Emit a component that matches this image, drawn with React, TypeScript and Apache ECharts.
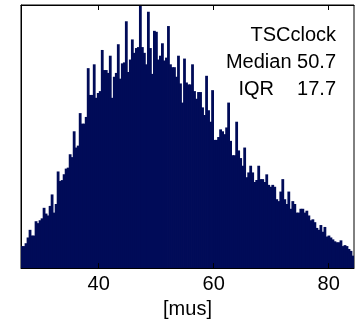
import React, { useEffect, useRef } from "react";
import * as echarts from "echarts";

// Histogram bin layout (x in microseconds)
const BIN_START = 26.5;
const BIN_END = 84.4;
const BIN_COUNT = 166;
const BIN_WIDTH = (BIN_END - BIN_START) / BIN_COUNT;

// Counts per bin (arbitrary units)
const counts: number[] = [
  23, 23, 26, 32, 40, 34, 34, 49, 47, 50,
  52, 63, 57, 55, 65, 77, 58, 67, 101, 91,
  92, 98, 104, 105, 119, 116, 143, 126, 128, 162,
  151, 151, 158, 209, 181, 181, 213, 178, 183, 185,
  228, 207, 207, 204, 222, 178, 200, 204, 234, 198,
  214, 215, 258, 205, 218, 239, 225, 230, 231, 275,
  231, 225, 213, 268, 230, 203, 248, 247, 218, 222,
  235, 217, 220, 253, 213, 210, 210, 200, 222, 193,
  173, 219, 194, 192, 192, 213, 185, 177, 184, 184,
  168, 160, 201, 165, 153, 186, 134, 134, 137, 145,
  143, 140, 147, 173, 133, 118, 118, 153, 123, 115,
  107, 126, 95, 100, 107, 100, 90, 92, 107, 93,
  93, 90, 98, 87, 85, 87, 85, 72, 70, 80,
  93, 72, 67, 80, 62, 70, 67, 58, 58, 62,
  62, 58, 60, 55, 50, 51, 48, 42, 40, 45,
  38, 43, 33, 34, 32, 30, 28, 27, 27, 29,
  23, 24, 23, 20, 18, 13,
];

const binCenters: string[] = counts.map((_, i) =>
  (BIN_START + (i + 0.5) * BIN_WIDTH).toFixed(2)
);

const xTicks = [40, 60, 80];
const xName = "[mus]";
const annotTitle = "TSCclock";
const annotMedian = "Median 50.7";
const annotIqrLabel = "IQR";
const annotIqrValue = "17.7";

const FONT = "'Liberation Sans', Arial, Helvetica, sans-serif";
const BAR_COLOR = "#000b58";

export default function App() {
  const ref = useRef<HTMLDivElement>(null);
  useEffect(() => {
    if (!ref.current) return;
    const chart = echarts.init(ref.current, null, { renderer: "svg" });
    chart.setOption({
      animation: false,
      grid: {
        left: 21,
        top: 5,
        right: 4,
        bottom: 43,
        show: true,
        borderColor: "#000",
        borderWidth: 1,
        backgroundColor: "transparent",
      },
      xAxis: [
        {
          type: "category",
          data: binCenters,
          show: false,
          boundaryGap: true,
        },
        {
          type: "value",
          position: "bottom",
          min: BIN_START,
          max: BIN_END,
          z: 10,
          axisLine: { show: true, lineStyle: { color: "#000", width: 1 } },
          axisTick: {
            show: true,
            inside: true,
            length: 5,
            customValues: xTicks,
            lineStyle: { color: "#000" },
          },
          axisLabel: {
            show: true,
            customValues: xTicks,
            color: "#000",
            fontSize: 20,
            fontFamily: FONT,
            margin: 5,
          },
          splitLine: { show: false },
          name: xName,
          nameLocation: "middle",
          nameGap: 19,
          nameTextStyle: { color: "#000", fontSize: 20, fontFamily: FONT },
        },
        {
          type: "value",
          position: "top",
          min: BIN_START,
          max: BIN_END,
          z: 10,
          axisLine: { show: true, lineStyle: { color: "#000", width: 1 } },
          axisTick: {
            show: true,
            inside: true,
            length: 5,
            customValues: xTicks,
            lineStyle: { color: "#000" },
          },
          axisLabel: { show: false },
          splitLine: { show: false },
        },
      ],
      yAxis: {
        type: "value",
        min: 0,
        max: 275,
        axisLine: { show: true, lineStyle: { color: "#000" } },
        axisTick: { show: false },
        axisLabel: { show: false },
        splitLine: { show: false },
      },
      series: [
        {
          type: "bar",
          xAxisIndex: 0,
          data: counts,
          barWidth: 2.8,
          itemStyle: { color: BAR_COLOR },
        },
      ],
      graphic: [
        {
          type: "text",
          right: 22,
          top: 24,
          style: { text: annotTitle, fill: "#000", font: `20px ${FONT}` },
          z: 100,
        },
        {
          type: "text",
          right: 22,
          top: 51,
          style: { text: annotMedian, fill: "#000", font: `20px ${FONT}` },
          z: 100,
        },
        {
          type: "text",
          right: 84,
          top: 78,
          style: { text: annotIqrLabel, fill: "#000", font: `20px ${FONT}` },
          z: 100,
        },
        {
          type: "text",
          right: 22,
          top: 78,
          style: { text: annotIqrValue, fill: "#000", font: `20px ${FONT}` },
          z: 100,
        },
      ],
    });
    return () => chart.dispose();
  }, []);
  return (
    <div
      ref={ref}
      style={{ position: "fixed", left: 0, top: 0, width: 358, height: 323 }}
    />
  );
}
